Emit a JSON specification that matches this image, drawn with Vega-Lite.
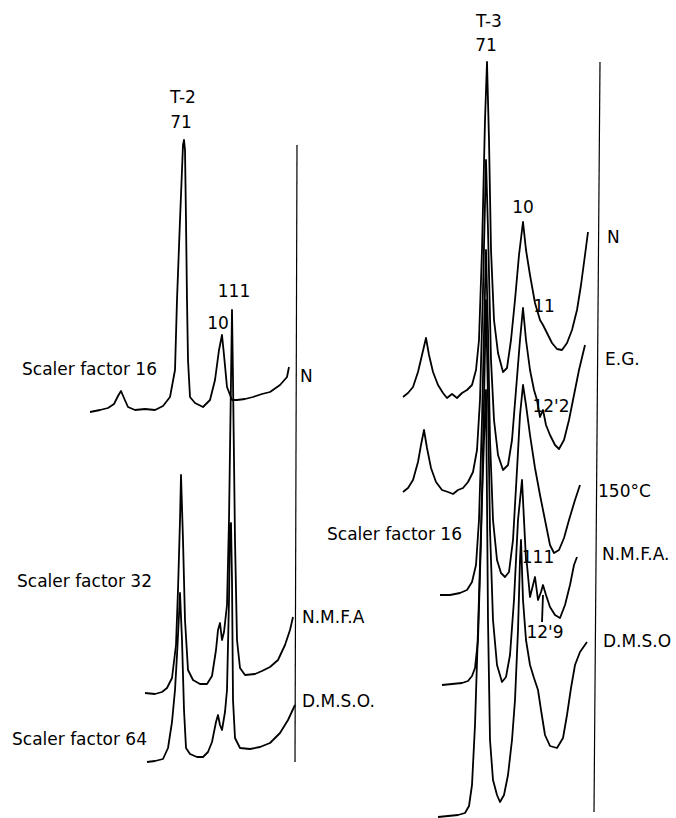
{
 "$schema": "https://vega.github.io/schema/vega-lite/v6.json",
 "width": 676, "height": 818,
 "autosize": {"type": "fit", "contains": "padding"},
 "padding": 0,
 "background": "white",
 "config": {"view": {"stroke": null}},
 "datasets": {
  "traces": [
   {"trace":"T2 N","pos":90,"signal":406},{"trace":"T2 N","pos":100,"signal":408},{"trace":"T2 N","pos":108,"signal":410},{"trace":"T2 N","pos":114,"signal":414},{"trace":"T2 N","pos":118,"signal":422},{"trace":"T2 N","pos":121,"signal":427},{"trace":"T2 N","pos":124,"signal":420},{"trace":"T2 N","pos":128,"signal":411},{"trace":"T2 N","pos":135,"signal":408},{"trace":"T2 N","pos":145,"signal":409},{"trace":"T2 N","pos":155,"signal":408},{"trace":"T2 N","pos":163,"signal":412},{"trace":"T2 N","pos":170,"signal":421},{"trace":"T2 N","pos":175,"signal":448},{"trace":"T2 N","pos":177,"signal":518},{"trace":"T2 N","pos":180,"signal":598},{"trace":"T2 N","pos":183,"signal":673},{"trace":"T2 N","pos":184,"signal":678},{"trace":"T2 N","pos":185,"signal":668},{"trace":"T2 N","pos":186,"signal":598},{"trace":"T2 N","pos":187,"signal":518},{"trace":"T2 N","pos":188,"signal":458},{"trace":"T2 N","pos":190,"signal":421},{"trace":"T2 N","pos":195,"signal":415},{"trace":"T2 N","pos":203,"signal":411},{"trace":"T2 N","pos":210,"signal":418},{"trace":"T2 N","pos":215,"signal":438},{"trace":"T2 N","pos":219,"signal":468},{"trace":"T2 N","pos":222,"signal":483},{"trace":"T2 N","pos":224,"signal":463},{"trace":"T2 N","pos":227,"signal":431},{"trace":"T2 N","pos":232,"signal":418},{"trace":"T2 N","pos":237,"signal":418},{"trace":"T2 N","pos":245,"signal":419},{"trace":"T2 N","pos":253,"signal":421},{"trace":"T2 N","pos":262,"signal":424},{"trace":"T2 N","pos":270,"signal":426},{"trace":"T2 N","pos":280,"signal":433},{"trace":"T2 N","pos":287,"signal":441},{"trace":"T2 N","pos":289,"signal":451},

   {"trace":"T2 NMFA","pos":145,"signal":125},{"trace":"T2 NMFA","pos":155,"signal":124},{"trace":"T2 NMFA","pos":162,"signal":126},{"trace":"T2 NMFA","pos":167,"signal":130},{"trace":"T2 NMFA","pos":172,"signal":140},{"trace":"T2 NMFA","pos":176,"signal":173},{"trace":"T2 NMFA","pos":178,"signal":228},{"trace":"T2 NMFA","pos":180,"signal":298},{"trace":"T2 NMFA","pos":181,"signal":343},{"trace":"T2 NMFA","pos":183,"signal":278},{"trace":"T2 NMFA","pos":185,"signal":198},{"trace":"T2 NMFA","pos":188,"signal":148},{"trace":"T2 NMFA","pos":193,"signal":138},{"trace":"T2 NMFA","pos":200,"signal":134},{"trace":"T2 NMFA","pos":207,"signal":134},{"trace":"T2 NMFA","pos":212,"signal":142},{"trace":"T2 NMFA","pos":216,"signal":168},{"trace":"T2 NMFA","pos":218,"signal":188},{"trace":"T2 NMFA","pos":220,"signal":195},{"trace":"T2 NMFA","pos":222,"signal":178},{"trace":"T2 NMFA","pos":224,"signal":186},{"trace":"T2 NMFA","pos":227,"signal":213},{"trace":"T2 NMFA","pos":229,"signal":298},{"trace":"T2 NMFA","pos":231,"signal":438},{"trace":"T2 NMFA","pos":232,"signal":508},{"trace":"T2 NMFA","pos":233,"signal":438},{"trace":"T2 NMFA","pos":235,"signal":278},{"trace":"T2 NMFA","pos":237,"signal":178},{"trace":"T2 NMFA","pos":240,"signal":150},{"trace":"T2 NMFA","pos":245,"signal":143},{"trace":"T2 NMFA","pos":255,"signal":144},{"trace":"T2 NMFA","pos":262,"signal":147},{"trace":"T2 NMFA","pos":270,"signal":151},{"trace":"T2 NMFA","pos":278,"signal":158},{"trace":"T2 NMFA","pos":285,"signal":173},{"trace":"T2 NMFA","pos":290,"signal":188},{"trace":"T2 NMFA","pos":293,"signal":201},

   {"trace":"T2 DMSO","pos":147,"signal":56},{"trace":"T2 DMSO","pos":155,"signal":57},{"trace":"T2 DMSO","pos":163,"signal":59},{"trace":"T2 DMSO","pos":168,"signal":70},{"trace":"T2 DMSO","pos":172,"signal":96},{"trace":"T2 DMSO","pos":175,"signal":128},{"trace":"T2 DMSO","pos":177,"signal":163},{"trace":"T2 DMSO","pos":179,"signal":203},{"trace":"T2 DMSO","pos":180,"signal":225},{"trace":"T2 DMSO","pos":182,"signal":178},{"trace":"T2 DMSO","pos":184,"signal":108},{"trace":"T2 DMSO","pos":186,"signal":70},{"trace":"T2 DMSO","pos":190,"signal":64},{"trace":"T2 DMSO","pos":197,"signal":61},{"trace":"T2 DMSO","pos":203,"signal":61},{"trace":"T2 DMSO","pos":208,"signal":66},{"trace":"T2 DMSO","pos":212,"signal":76},{"trace":"T2 DMSO","pos":216,"signal":96},{"trace":"T2 DMSO","pos":218,"signal":103},{"trace":"T2 DMSO","pos":220,"signal":93},{"trace":"T2 DMSO","pos":222,"signal":88},{"trace":"T2 DMSO","pos":225,"signal":106},{"trace":"T2 DMSO","pos":227,"signal":128},{"trace":"T2 DMSO","pos":229,"signal":218},{"trace":"T2 DMSO","pos":230,"signal":293},{"trace":"T2 DMSO","pos":231,"signal":295},{"trace":"T2 DMSO","pos":232,"signal":238},{"trace":"T2 DMSO","pos":233,"signal":118},{"trace":"T2 DMSO","pos":235,"signal":80},{"trace":"T2 DMSO","pos":240,"signal":70},{"trace":"T2 DMSO","pos":250,"signal":69},{"trace":"T2 DMSO","pos":260,"signal":71},{"trace":"T2 DMSO","pos":270,"signal":75},{"trace":"T2 DMSO","pos":280,"signal":85},{"trace":"T2 DMSO","pos":288,"signal":98},{"trace":"T2 DMSO","pos":295,"signal":113},

   {"trace":"T3 N","pos":403,"signal":421},{"trace":"T3 N","pos":408,"signal":425},{"trace":"T3 N","pos":413,"signal":431},{"trace":"T3 N","pos":418,"signal":446},{"trace":"T3 N","pos":422,"signal":463},{"trace":"T3 N","pos":426,"signal":480},{"trace":"T3 N","pos":429,"signal":463},{"trace":"T3 N","pos":433,"signal":446},{"trace":"T3 N","pos":438,"signal":433},{"trace":"T3 N","pos":443,"signal":425},{"trace":"T3 N","pos":447,"signal":420},{"trace":"T3 N","pos":452,"signal":424},{"trace":"T3 N","pos":457,"signal":420},{"trace":"T3 N","pos":462,"signal":425},{"trace":"T3 N","pos":467,"signal":428},{"trace":"T3 N","pos":472,"signal":433},{"trace":"T3 N","pos":476,"signal":448},{"trace":"T3 N","pos":479,"signal":478},{"trace":"T3 N","pos":482,"signal":568},{"trace":"T3 N","pos":485,"signal":698},{"trace":"T3 N","pos":487,"signal":756},{"trace":"T3 N","pos":489,"signal":678},{"trace":"T3 N","pos":491,"signal":568},{"trace":"T3 N","pos":494,"signal":498},{"trace":"T3 N","pos":498,"signal":465},{"trace":"T3 N","pos":503,"signal":446},{"trace":"T3 N","pos":507,"signal":450},{"trace":"T3 N","pos":511,"signal":478},{"trace":"T3 N","pos":515,"signal":518},{"trace":"T3 N","pos":519,"signal":563},{"trace":"T3 N","pos":523,"signal":596},{"trace":"T3 N","pos":526,"signal":568},{"trace":"T3 N","pos":530,"signal":543},{"trace":"T3 N","pos":535,"signal":515},{"trace":"T3 N","pos":540,"signal":498},{"trace":"T3 N","pos":543,"signal":493},{"trace":"T3 N","pos":547,"signal":485},{"trace":"T3 N","pos":552,"signal":475},{"trace":"T3 N","pos":557,"signal":469},{"trace":"T3 N","pos":562,"signal":468},{"trace":"T3 N","pos":567,"signal":475},{"trace":"T3 N","pos":572,"signal":488},{"trace":"T3 N","pos":577,"signal":508},{"trace":"T3 N","pos":581,"signal":533},{"trace":"T3 N","pos":585,"signal":563},{"trace":"T3 N","pos":588,"signal":586},

   {"trace":"T3 EG","pos":403,"signal":326},{"trace":"T3 EG","pos":408,"signal":330},{"trace":"T3 EG","pos":413,"signal":338},{"trace":"T3 EG","pos":418,"signal":356},{"trace":"T3 EG","pos":421,"signal":373},{"trace":"T3 EG","pos":424,"signal":388},{"trace":"T3 EG","pos":427,"signal":370},{"trace":"T3 EG","pos":431,"signal":350},{"trace":"T3 EG","pos":436,"signal":336},{"trace":"T3 EG","pos":442,"signal":328},{"trace":"T3 EG","pos":448,"signal":326},{"trace":"T3 EG","pos":453,"signal":324},{"trace":"T3 EG","pos":458,"signal":328},{"trace":"T3 EG","pos":463,"signal":330},{"trace":"T3 EG","pos":468,"signal":336},{"trace":"T3 EG","pos":473,"signal":346},{"trace":"T3 EG","pos":477,"signal":368},{"trace":"T3 EG","pos":480,"signal":418},{"trace":"T3 EG","pos":483,"signal":528},{"trace":"T3 EG","pos":486,"signal":658},{"trace":"T3 EG","pos":488,"signal":588},{"trace":"T3 EG","pos":491,"signal":458},{"trace":"T3 EG","pos":494,"signal":398},{"trace":"T3 EG","pos":498,"signal":363},{"trace":"T3 EG","pos":503,"signal":348},{"trace":"T3 EG","pos":508,"signal":353},{"trace":"T3 EG","pos":512,"signal":378},{"trace":"T3 EG","pos":516,"signal":428},{"trace":"T3 EG","pos":520,"signal":478},{"trace":"T3 EG","pos":523,"signal":510},{"trace":"T3 EG","pos":526,"signal":478},{"trace":"T3 EG","pos":530,"signal":448},{"trace":"T3 EG","pos":534,"signal":428},{"trace":"T3 EG","pos":537,"signal":418},{"trace":"T3 EG","pos":540,"signal":401},{"trace":"T3 EG","pos":543,"signal":408},{"trace":"T3 EG","pos":546,"signal":393},{"trace":"T3 EG","pos":550,"signal":383},{"trace":"T3 EG","pos":555,"signal":373},{"trace":"T3 EG","pos":559,"signal":369},{"trace":"T3 EG","pos":564,"signal":378},{"trace":"T3 EG","pos":569,"signal":398},{"trace":"T3 EG","pos":574,"signal":423},{"trace":"T3 EG","pos":579,"signal":448},{"trace":"T3 EG","pos":585,"signal":473},

   {"trace":"T3 150C","pos":440,"signal":223},{"trace":"T3 150C","pos":450,"signal":223},{"trace":"T3 150C","pos":460,"signal":225},{"trace":"T3 150C","pos":467,"signal":228},{"trace":"T3 150C","pos":472,"signal":236},{"trace":"T3 150C","pos":476,"signal":253},{"trace":"T3 150C","pos":479,"signal":298},{"trace":"T3 150C","pos":482,"signal":398},{"trace":"T3 150C","pos":485,"signal":528},{"trace":"T3 150C","pos":486,"signal":568},{"trace":"T3 150C","pos":488,"signal":488},{"trace":"T3 150C","pos":490,"signal":378},{"trace":"T3 150C","pos":493,"signal":298},{"trace":"T3 150C","pos":497,"signal":258},{"trace":"T3 150C","pos":501,"signal":245},{"trace":"T3 150C","pos":505,"signal":241},{"trace":"T3 150C","pos":509,"signal":246},{"trace":"T3 150C","pos":513,"signal":278},{"trace":"T3 150C","pos":517,"signal":348},{"trace":"T3 150C","pos":520,"signal":403},{"trace":"T3 150C","pos":523,"signal":433},{"trace":"T3 150C","pos":526,"signal":413},{"trace":"T3 150C","pos":530,"signal":383},{"trace":"T3 150C","pos":535,"signal":350},{"trace":"T3 150C","pos":540,"signal":323},{"trace":"T3 150C","pos":546,"signal":293},{"trace":"T3 150C","pos":550,"signal":273},{"trace":"T3 150C","pos":554,"signal":265},{"trace":"T3 150C","pos":559,"signal":268},{"trace":"T3 150C","pos":564,"signal":280},{"trace":"T3 150C","pos":569,"signal":298},{"trace":"T3 150C","pos":575,"signal":318},{"trace":"T3 150C","pos":580,"signal":333},

   {"trace":"T3 NMFA","pos":442,"signal":133},{"trace":"T3 NMFA","pos":452,"signal":134},{"trace":"T3 NMFA","pos":462,"signal":135},{"trace":"T3 NMFA","pos":468,"signal":137},{"trace":"T3 NMFA","pos":472,"signal":142},{"trace":"T3 NMFA","pos":475,"signal":150},{"trace":"T3 NMFA","pos":478,"signal":178},{"trace":"T3 NMFA","pos":481,"signal":278},{"trace":"T3 NMFA","pos":484,"signal":418},{"trace":"T3 NMFA","pos":486,"signal":518},{"trace":"T3 NMFA","pos":488,"signal":418},{"trace":"T3 NMFA","pos":490,"signal":288},{"trace":"T3 NMFA","pos":493,"signal":198},{"trace":"T3 NMFA","pos":497,"signal":153},{"trace":"T3 NMFA","pos":502,"signal":136},{"trace":"T3 NMFA","pos":506,"signal":141},{"trace":"T3 NMFA","pos":510,"signal":163},{"trace":"T3 NMFA","pos":514,"signal":218},{"trace":"T3 NMFA","pos":518,"signal":298},{"trace":"T3 NMFA","pos":522,"signal":338},{"trace":"T3 NMFA","pos":524,"signal":298},{"trace":"T3 NMFA","pos":526,"signal":258},{"trace":"T3 NMFA","pos":527,"signal":253},{"trace":"T3 NMFA","pos":530,"signal":221},{"trace":"T3 NMFA","pos":533,"signal":233},{"trace":"T3 NMFA","pos":535,"signal":241},{"trace":"T3 NMFA","pos":538,"signal":218},{"trace":"T3 NMFA","pos":541,"signal":226},{"trace":"T3 NMFA","pos":543,"signal":233},{"trace":"T3 NMFA","pos":546,"signal":223},{"trace":"T3 NMFA","pos":550,"signal":211},{"trace":"T3 NMFA","pos":555,"signal":203},{"trace":"T3 NMFA","pos":560,"signal":200},{"trace":"T3 NMFA","pos":565,"signal":213},{"trace":"T3 NMFA","pos":570,"signal":233},{"trace":"T3 NMFA","pos":574,"signal":253},{"trace":"T3 NMFA","pos":577,"signal":261},

   {"trace":"T3 DMSO","pos":438,"signal":1},{"trace":"T3 DMSO","pos":448,"signal":2},{"trace":"T3 DMSO","pos":458,"signal":3},{"trace":"T3 DMSO","pos":465,"signal":5},{"trace":"T3 DMSO","pos":469,"signal":12},{"trace":"T3 DMSO","pos":472,"signal":33},{"trace":"T3 DMSO","pos":475,"signal":93},{"trace":"T3 DMSO","pos":478,"signal":188},{"trace":"T3 DMSO","pos":481,"signal":288},{"trace":"T3 DMSO","pos":484,"signal":378},{"trace":"T3 DMSO","pos":486,"signal":428},{"trace":"T3 DMSO","pos":487,"signal":318},{"trace":"T3 DMSO","pos":488,"signal":198},{"trace":"T3 DMSO","pos":490,"signal":78},{"trace":"T3 DMSO","pos":493,"signal":38},{"trace":"T3 DMSO","pos":497,"signal":23},{"trace":"T3 DMSO","pos":500,"signal":16},{"trace":"T3 DMSO","pos":504,"signal":23},{"trace":"T3 DMSO","pos":508,"signal":43},{"trace":"T3 DMSO","pos":512,"signal":78},{"trace":"T3 DMSO","pos":515,"signal":118},{"trace":"T3 DMSO","pos":518,"signal":188},{"trace":"T3 DMSO","pos":520,"signal":258},{"trace":"T3 DMSO","pos":521,"signal":278},{"trace":"T3 DMSO","pos":523,"signal":218},{"trace":"T3 DMSO","pos":526,"signal":178},{"trace":"T3 DMSO","pos":530,"signal":153},{"trace":"T3 DMSO","pos":534,"signal":140},{"trace":"T3 DMSO","pos":538,"signal":128},{"trace":"T3 DMSO","pos":541,"signal":108},{"trace":"T3 DMSO","pos":545,"signal":83},{"trace":"T3 DMSO","pos":550,"signal":72},{"trace":"T3 DMSO","pos":557,"signal":70},{"trace":"T3 DMSO","pos":563,"signal":80},{"trace":"T3 DMSO","pos":567,"signal":103},{"trace":"T3 DMSO","pos":571,"signal":130},{"trace":"T3 DMSO","pos":575,"signal":153},{"trace":"T3 DMSO","pos":580,"signal":166},{"trace":"T3 DMSO","pos":587,"signal":176},

   {"trace":"leader 12.9","pos":542,"signal":196},{"trace":"leader 12.9","pos":543,"signal":223}
  ],
  "frames": [
   {"trace":"frame T2","pos":295,"signal":56},{"trace":"frame T2","pos":297,"signal":673},
   {"trace":"frame T3","pos":594,"signal":6},{"trace":"frame T3","pos":600,"signal":756}
  ],
  "centered": [
   {"label":"T-2","pos":183,"signal":720},{"label":"71","pos":181,"signal":695},
   {"label":"111","pos":234,"signal":526},{"label":"10","pos":218,"signal":494},
   {"label":"T-3","pos":489,"signal":796},{"label":"71","pos":486,"signal":772},
   {"label":"10","pos":523,"signal":610},{"label":"11","pos":544,"signal":511},
   {"label":"12'2","pos":551,"signal":411},{"label":"111","pos":538,"signal":260},
   {"label":"12'9","pos":545,"signal":185}
  ],
  "left": [
   {"label":"Scaler factor 16","pos":22,"signal":448},
   {"label":"N","pos":300,"signal":441},
   {"label":"Scaler factor 32","pos":17,"signal":236},
   {"label":"N.M.F.A","pos":302,"signal":200},
   {"label":"D.M.S.O.","pos":302,"signal":116},
   {"label":"Scaler factor 64","pos":12,"signal":78},
   {"label":"N","pos":607,"signal":580},
   {"label":"E.G.","pos":605,"signal":458},
   {"label":"150°C","pos":598,"signal":326},
   {"label":"Scaler factor 16","pos":327,"signal":283},
   {"label":"N.M.F.A.","pos":602,"signal":263},
   {"label":"D.M.S.O","pos":603,"signal":176}
  ]
 },
 "encoding": {
  "x": {"field":"pos","type":"quantitative","scale":{"domain":[0,676]},"axis":null},
  "y": {"field":"signal","type":"quantitative","scale":{"domain":[0,818]},"axis":null}
 },
 "layer": [
  {"data":{"name":"traces"},"mark":{"type":"line","color":"black","strokeWidth":1.8,"strokeJoin":"round"},"encoding":{"detail":{"field":"trace"}}},
  {"data":{"name":"frames"},"mark":{"type":"line","color":"black","strokeWidth":1.2},"encoding":{"detail":{"field":"trace"}}},
  {"data":{"name":"centered"},"mark":{"type":"text","font":"DejaVu Sans","fontSize":17,"align":"center","baseline":"middle","color":"black"},"encoding":{"text":{"field":"label"}}},
  {"data":{"name":"left"},"mark":{"type":"text","font":"DejaVu Sans","fontSize":17,"align":"left","baseline":"middle","color":"black"},"encoding":{"text":{"field":"label"}}}
 ]
}
